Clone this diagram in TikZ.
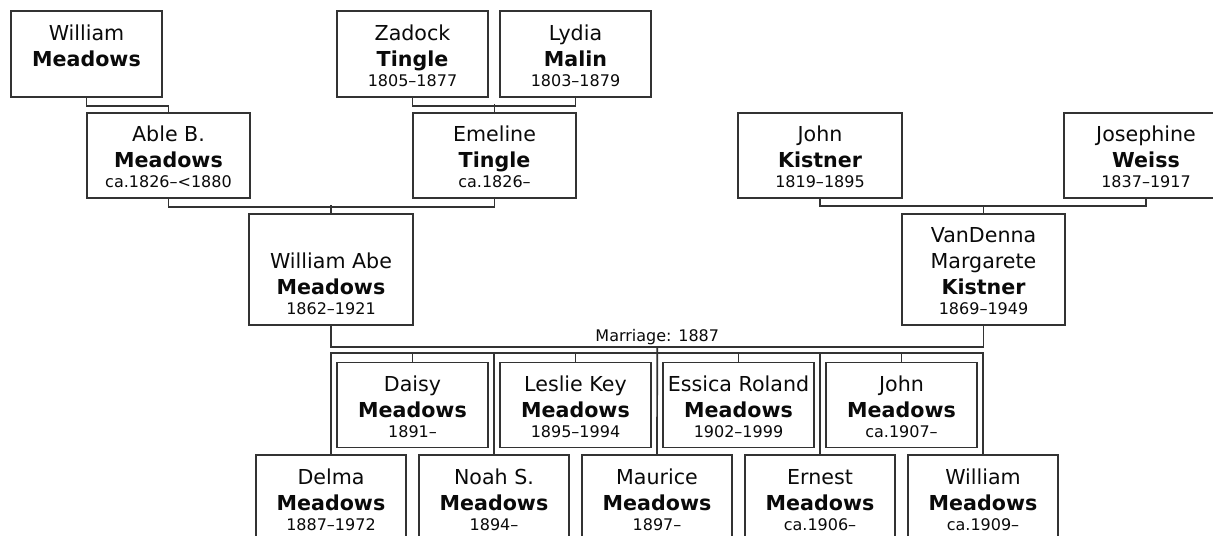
\documentclass[tikz,border=0pt]{standalone}
\usepackage{fontspec}
\setmainfont{DejaVu Sans}
\usepackage{tikz}
\definecolor{linegray}{HTML}{333333}
\definecolor{inkblack}{HTML}{0A0A0A}
\newcommand{\namefont}{\fontsize{10.3}{13}\selectfont}
\newcommand{\datefont}{\fontsize{8}{10}\selectfont}
% card text: width, height, given names, surname, dates
\newcommand{\person}[5]{\parbox[c][#2][b]{#1}{\centering
  {\namefont #3\\\textbf{#4}\par}%
  {\datefont\leavevmode #5\par}\kern5pt}}

\begin{document}
\begin{tikzpicture}[
    x=0.5pt, y=-0.5pt,
    text=inkblack,
    person/.style={draw=linegray, line width=0.85pt, fill=white, inner sep=0pt},
    link/.style={draw=linegray, line width=0.85pt}
]
\useasboundingbox (0,0) rectangle (1213,535);
\clip (0,0) rectangle (1213,535);

% great-grandparents
\node[person] (wmeadows) at (86.5,54) {\person{75.5pt}{43pt}{William}{Meadows}{}};
\node[person] (zadock) at (412.5,54) {\person{75.5pt}{43pt}{Zadock}{Tingle}{1805--1877}};
\node[person] (lydia) at (575.5,54) {\person{75.5pt}{43pt}{Lydia}{Malin}{1803--1879}};

% grandparents
\node[person] (able) at (168.5,155.5) {\person{81.5pt}{42.5pt}{Able B.}{Meadows}{ca.1826--<1880}};
\node[person] (emeline) at (494.5,155.5) {\person{81.5pt}{42.5pt}{Emeline}{Tingle}{ca.1826--}};
\node[person] (jkistner) at (820,155.5) {\person{82pt}{42.5pt}{John}{Kistner}{1819--1895}};
\node[person] (josephine) at (1146,155.5) {\person{82pt}{42.5pt}{Josephine}{Weiss}{1837--1917}};

% parents
\node[person] (wabe) at (331,269.5) {\person{82pt}{55.5pt}{William Abe}{Meadows}{1862--1921}};
\node[person] (vandenna) at (983.5,269.5) {\person{81.5pt}{55.5pt}{VanDenna\\Margarete}{Kistner}{1869--1949}};

% children, upper row
\node[person] (daisy) at (412.5,405) {\person{75.5pt}{42.5pt}{Daisy}{Meadows}{1891--}};
\node[person] (leslie) at (575.5,405) {\person{75.5pt}{42.5pt}{Leslie Key}{Meadows}{1895--1994}};
\node[person] (essica) at (738.5,405) {\person{75.5pt}{42.5pt}{Essica Roland}{Meadows}{1902--1999}};
\node[person] (johnm) at (901.5,405) {\person{75.5pt}{42.5pt}{John}{Meadows}{ca.1907--}};

% children, lower row
\node[person] (delma) at (331,498) {\person{75pt}{43pt}{Delma}{Meadows}{1887--1972}};
\node[person] (noah) at (494,498) {\person{75pt}{43pt}{Noah S.}{Meadows}{1894--}};
\node[person] (maurice) at (657,498) {\person{75pt}{43pt}{Maurice}{Meadows}{1897--}};
\node[person] (ernest) at (820,498) {\person{75pt}{43pt}{Ernest}{Meadows}{ca.1906--}};
\node[person] (williamm) at (983,498) {\person{75pt}{43pt}{William}{Meadows}{ca.1909--}};

\draw[link] (wmeadows.south) -- ++(0,8) -| (able.north);
\draw[link] (zadock.south) -- ++(0,8) -| (lydia.south);
\draw[link] (emeline.north) -- ++(0,-8);
\draw[link] (able.south) -- ++(0,8) -| (emeline.south);
\draw[link] (wabe.north) -- ++(0,-8);
\draw[link] (jkistner.south) -- ++(0,7) -| (josephine.south);
\draw[link] (vandenna.north) -- ++(0,-8);
\draw[link] (wabe.south) -- ++(0,21) -| (vandenna.south)
    coordinate[pos=.25] (wed)
    node[pos=.25, anchor=base, yshift=2.5pt, font=\datefont] {Marriage: 1887};
\draw[link] (wed) -- (maurice.north);
\draw[link] (delma.north) -- ++(0,-101) coordinate (bus) -| (williamm.north);
\foreach \kid in {noah,ernest,daisy,leslie,essica,johnm}
  \draw[link] (\kid.north) -- (\kid.north |- bus);
\end{tikzpicture}
\end{document}
